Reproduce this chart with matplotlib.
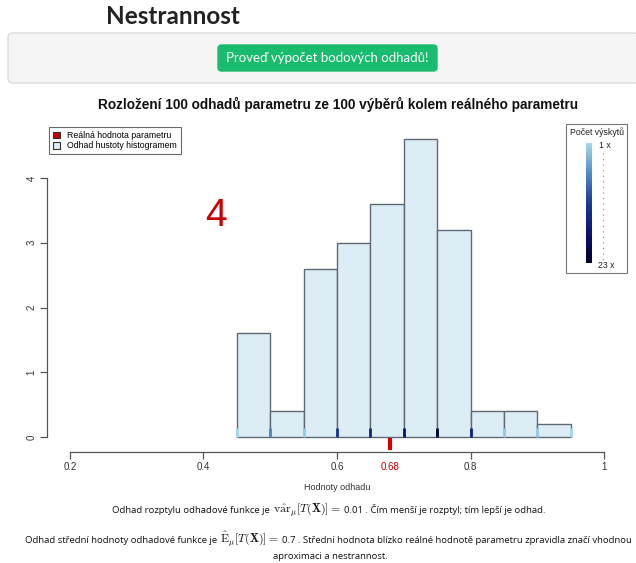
import numpy as np
import matplotlib
matplotlib.use("Agg")
import matplotlib.pyplot as plt
from matplotlib.patches import FancyBboxPatch, Rectangle, Patch
from matplotlib.colors import LinearSegmentedColormap

plt.rcParams['font.family'] = ['Liberation Sans', 'DejaVu Sans']
plt.rcParams['mathtext.fontset'] = 'cm'

# ---- data -------------------------------------------------------------
bin_edges = [0.45, 0.50, 0.55, 0.60, 0.65, 0.70, 0.75, 0.80, 0.85, 0.90, 0.95]
bin_density = [1.6, 0.4, 2.6, 3.0, 3.6, 4.6, 3.2, 0.4, 0.4, 0.2]
estimate_values = [0.45, 0.50, 0.55, 0.60, 0.65, 0.70, 0.75, 0.80, 0.85, 0.90, 0.95]
estimate_counts = [1, 7, 2, 13, 15, 18, 23, 16, 2, 2, 1]
true_param = 0.68
x_ticks = [0.2, 0.4, 0.6, 0.68, 0.8, 1.0]
x_tick_labels = ['0.2', '0.4', '0.6', '0.68', '0.8', '1']
y_ticks = [0, 1, 2, 3, 4]
var_est = '0.01'
mean_est = '0.7'

W, H = 636, 563
fig = plt.figure(figsize=(W / 100, H / 100), dpi=100)
fig.patch.set_facecolor('white')
renderer = fig.canvas.get_renderer()


def fx(px):
    return px / W


def fy(py):
    return 1 - py / H


# ---- page header ------------------------------------------------------
fig.text(fx(106), fy(16), 'Nestrannost', fontsize=17.5, fontweight='bold',
         family=['Lato', 'DejaVu Sans'], color='#222222', va='center', ha='left')
panel = FancyBboxPatch((fx(8), fy(83)), fx(640) - fx(8), fy(33) - fy(83),
                       boxstyle='round,pad=0,rounding_size=0.008',
                       transform=fig.transFigure, facecolor='#f5f5f5',
                       edgecolor='#dcdcdc', lw=1)
fig.add_artist(panel)
button = FancyBboxPatch((fx(218), fy(71)), fx(437) - fx(218), fy(45) - fy(71),
                        boxstyle='round,pad=0,rounding_size=0.006',
                        transform=fig.transFigure, facecolor='#18bc6c',
                        edgecolor='#18bc6c', lw=1)
fig.add_artist(button)
fig.text(fx(327.5), fy(58), 'Proveď výpočet bodových odhadů!', fontsize=9.5,
         fontweight='normal', family=['Lato', 'DejaVu Sans'], color='white',
         va='center', ha='center')

# ---- histogram axes ---------------------------------------------------
ax_l, ax_r, ax_t, ax_b = 40, 630, 120, 470
ax = fig.add_axes([fx(ax_l), fy(ax_b), fx(ax_r) - fx(ax_l), fy(ax_t) - fy(ax_b)])
ax.patch.set_alpha(0)
px_per_x = 667.5  # pixels per data unit along x
px_per_y = 64.75
ax.set_xlim(0.2 - (70 - ax_l) / px_per_x, 0.2 + (ax_r - 70) / px_per_x)
ax.set_ylim(-(ax_b - 437) / px_per_y, (437 - ax_t) / px_per_y)

widths = np.diff(bin_edges)
ax.bar(bin_edges[:-1], bin_density, width=widths, align='edge',
       color='#ddedf6', edgecolor='#5e6975', linewidth=1.0, zorder=2)

# rug of estimates, coloured by how often each value occurred
cmap = LinearSegmentedColormap.from_list(
    'occ', ['#a3d8ea', '#4f8cc6', '#1a3b96', '#0a1670', '#00002e'])
cmin, cmax = 1, max(estimate_counts)
rug_colors = [cmap((c - cmin) / (cmax - cmin)) for c in estimate_counts]
ax.vlines(estimate_values, 0, 0.14, colors=rug_colors, lw=2, zorder=3)

# true parameter mark
ax.vlines([true_param], -0.02, -0.2, colors='#d40000', lw=3, zorder=3)

for s in ['top', 'right']:
    ax.spines[s].set_visible(False)
ax.spines['left'].set_position(('data', 0.2 - 23 / px_per_x))
ax.spines['left'].set_bounds(0, 4)
ax.spines['bottom'].set_position(('data', -(452 - 437) / px_per_y))
ax.spines['bottom'].set_bounds(0.2, 1.0)
for s in ['left', 'bottom']:
    ax.spines[s].set_color('#555555')
    ax.spines[s].set_linewidth(0.9)

ax.set_xticks(x_ticks)
ax.set_xticklabels(x_tick_labels)
ax.set_yticks(y_ticks)
ax.set_yticklabels([str(v) for v in y_ticks], rotation=90, va='center')
ax.tick_params(axis='both', labelsize=7, color='#555555', labelcolor='#333333',
               length=5, width=0.9)
ax.tick_params(axis='x', pad=2.5)
ax.tick_params(axis='y', pad=2.5)
xt = ax.xaxis.get_major_ticks()[3]
xt.tick1line.set_visible(False)
xt.label1.set_color('#c00000')

fig.text(fx(337), fy(487), 'Hodnoty odhadu', fontsize=6.5, color='#333333',
         ha='center', va='center')
fig.text(fx(338), fy(104),
         'Rozložení 100 odhadů parametru ze 100 výběrů kolem reálného parametru',
         fontsize=9.8, fontweight='bold', ha='center', va='center', color='#111111')

# legend
handles = [Patch(facecolor='#cc0000', edgecolor='#333333', lw=0.8),
           Patch(facecolor='#ddedf6', edgecolor='#333333', lw=0.8)]
leg = fig.legend(handles, ['Reálná hodnota parametru', 'Odhad hustoty histogramem'],
                 loc='upper left', bbox_to_anchor=(fx(49), fy(127)),
                 bbox_transform=fig.transFigure, fontsize=6.3, frameon=True,
                 fancybox=False, borderaxespad=0, handlelength=0.8,
                 handleheight=0.8, handletextpad=0.8, borderpad=0.45,
                 labelspacing=0.15)
leg.get_frame().set_edgecolor('#444444')
leg.get_frame().set_linewidth(0.8)

# occurrence colour key
fig.add_artist(Rectangle((fx(566), fy(273)), fx(627) - fx(566), fy(124) - fy(273),
                         transform=fig.transFigure, facecolor='none',
                         edgecolor='#777777', lw=0.8))
fig.text(fx(597), fy(132), 'Počet výskytů', fontsize=6.3, ha='center',
         va='center', color='#222222')
cax = fig.add_axes([fx(586), fy(263), fx(592) - fx(586), fy(143) - fy(263)])
cax.imshow(np.linspace(0, 1, 100).reshape(-1, 1), cmap=cmap, aspect='auto')
cax.axis('off')
fig.add_artist(plt.Line2D([fx(603), fx(603)], [fy(153), fy(261)],
                          transform=fig.transFigure, color='#888888', lw=0.8,
                          linestyle=(0, (1, 4))))
fig.text(fx(599), fy(145), '%d x' % cmin, fontsize=6.3, ha='left', va='center',
         color='#222222')
fig.text(fx(598), fy(266), '%d x' % cmax, fontsize=6.3, ha='left', va='center',
         color='#222222')

# step marker
fig.text(fx(216), fy(216), '4', fontsize=28, color='#cc0000', ha='center',
         va='center')

# ---- summary text -----------------------------------------------------
txt_font = ['Open Sans', 'DejaVu Sans']
fs = 6.8
fs_math = 8.6


def text_line(pieces, x_px, y_px, ha='left', gap=3.0):
    """Lay out text/math pieces along one baseline (pixel coordinates)."""
    arts = []
    for s, size in pieces:
        t = fig.text(0, 0, s, fontsize=size, family=txt_font, ha='left',
                     va='baseline', color='#111111')
        arts.append(t)
    wds = [a.get_window_extent(renderer).width for a in arts]
    total = sum(wds) + gap * (len(arts) - 1)
    x = x_px - total / 2 if ha == 'center' else x_px
    for a, w in zip(arts, wds):
        a.set_position((fx(x), fy(y_px)))
        x += w + gap


text_line([('Odhad rozptylu odhadové funkce je', fs),
           (r'$\mathrm{v\hat{a}r}_{\mu}[T(\mathbf{X})] =$', fs_math),
           (var_est + ' . Čím menší je rozptyl; tím lepší je odhad.', fs)],
          329, 513, ha='center')
text_line([('Odhad střední hodnoty odhadové funkce je', fs),
           (r'$\hat{\mathrm{E}}_{\mu}[T(\mathbf{X})] =$', fs_math),
           (mean_est + ' . Střední hodnota blízko reálné hodnotě parametru '
            'zpravidla značí vhodnou', fs)],
          25, 543, ha='left')
text_line([('aproximaci a nestrannost.', fs)], 330, 559, ha='center')

fig.savefig('out.png', dpi=100, facecolor='white')
